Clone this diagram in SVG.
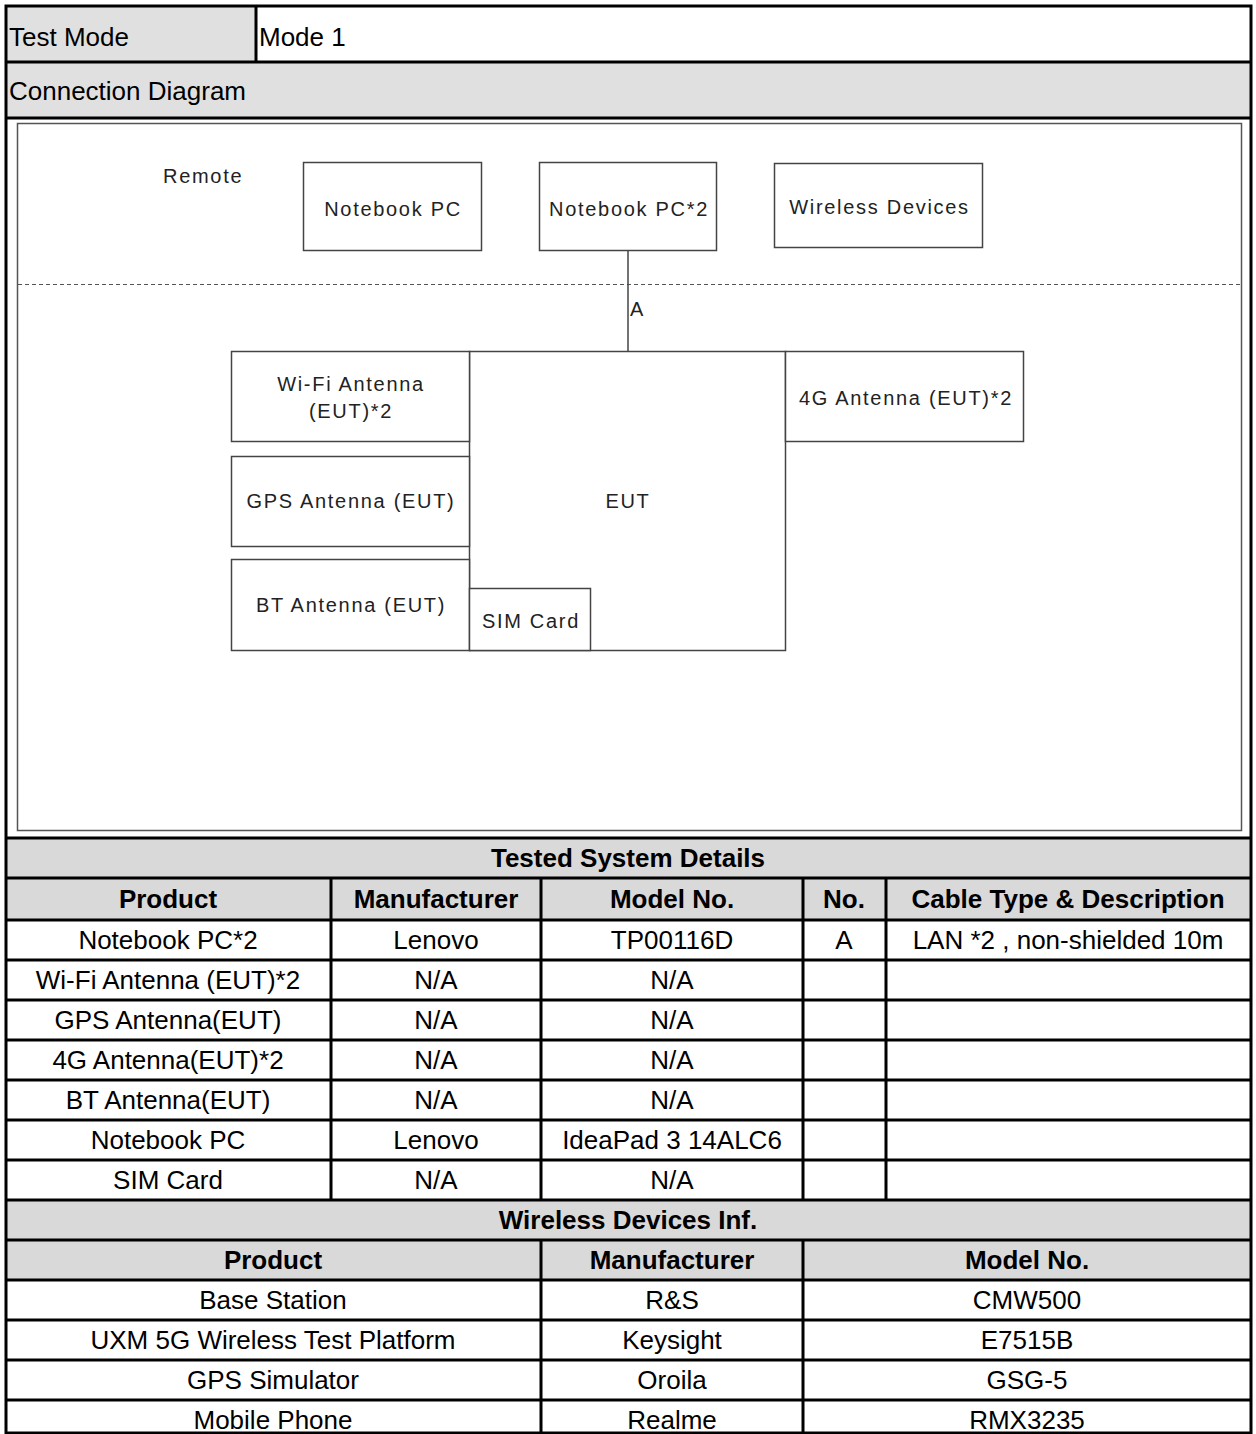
<svg xmlns="http://www.w3.org/2000/svg" width="1256" height="1434" viewBox="0 0 1256 1434">
<style>
.t{font-family:"Liberation Sans",Arial,sans-serif;font-size:26px;fill:#000}
.b{font-family:"Liberation Sans",Arial,sans-serif;font-size:26px;font-weight:bold;fill:#000}
.h{font-family:"Liberation Sans",Arial,sans-serif;font-size:26px;fill:#000}
.c{text-anchor:middle}
.d{font-family:"Liberation Sans",Arial,sans-serif;font-size:20px;fill:#222;letter-spacing:1.7px}
.box{fill:#fff;stroke:#444;stroke-width:1.5}
.grid{stroke:#000;stroke-width:3;fill:none}
.g1{fill:#e0e0e0}
.g2{fill:#d9d9d9}
</style>
<rect x="0" y="0" width="1256" height="1434" fill="#fff"/>
<g id="table-backgrounds">
<rect class="g1" x="6" y="6" width="250" height="56"/>
<rect class="g1" x="6" y="62" width="1245" height="56"/>
<rect class="g2" x="6" y="838" width="1245" height="82"/>
<rect class="g2" x="6" y="1200" width="1245" height="80"/>
</g>
<g id="diagram-frame">
<rect x="17.5" y="123.5" width="1224" height="707" fill="#fff" stroke="#555" stroke-width="1.5"/>
<line x1="18" y1="284.5" x2="1241" y2="284.5" stroke="#555" stroke-width="1" stroke-dasharray="4,3"/>
</g>
<g id="connectors">
<line x1="628" y1="250" x2="628" y2="351" stroke="#444" stroke-width="1.5"/>
<text class="d" x="630" y="316">A</text>
</g>
<g id="remote-label"><text class="d" x="163" y="183">Remote</text></g>
<g id="notebook-pc"><rect class="box" x="303.5" y="162.5" width="178" height="88"/><text class="d c" x="393" y="216">Notebook PC</text></g>
<g id="notebook-pc2"><rect class="box" x="539.5" y="162.5" width="177" height="88"/><text class="d c" x="629" y="216">Notebook PC*2</text></g>
<g id="wireless-devices"><rect class="box" x="774.5" y="163.5" width="208" height="84"/><text class="d c" x="879.5" y="214">Wireless Devices</text></g>
<g id="eut"><rect class="box" x="469.5" y="351.5" width="316" height="299"/><text class="d c" x="628" y="508">EUT</text></g>
<g id="wifi-antenna"><rect class="box" x="231.5" y="351.5" width="238" height="90"/><text class="d c" x="351" y="391">Wi-Fi Antenna</text><text class="d c" x="351" y="418">(EUT)*2</text></g>
<g id="gps-antenna"><rect class="box" x="231.5" y="456.5" width="238" height="90"/><text class="d c" x="351" y="508">GPS Antenna (EUT)</text></g>
<g id="bt-antenna"><rect class="box" x="231.5" y="559.5" width="238" height="91"/><text class="d c" x="351" y="612">BT Antenna (EUT)</text></g>
<g id="sim-card"><rect class="box" x="469.5" y="588.5" width="121" height="62"/><text class="d c" x="531" y="628">SIM Card</text></g>
<g id="g4-antenna"><rect class="box" x="785.5" y="351.5" width="238" height="90"/><text class="d c" x="906" y="405">4G Antenna (EUT)*2</text></g>
<g id="table-grid" class="grid">
<rect x="6" y="6" width="1245" height="1427"/>
<path d="M256 6V62M6 62H1251M6 118H1251M6 838H1251M6 878H1251M6 920H1251M6 960H1251M6 1000H1251M6 1040H1251M6 1080H1251M6 1120H1251M6 1160H1251M6 1200H1251M6 1240H1251M6 1280H1251M6 1320H1251M6 1360H1251M6 1400H1251"/>
<path d="M331 878V1200M541 878V1200M803 878V1200M886 878V1200"/>
<path d="M541 1240V1433M803 1240V1433"/>
</g>
<g id="table-text">
<text class="h" x="9" y="46">Test Mode</text>
<text class="h" x="259" y="46">Mode 1</text>
<text class="h" x="9" y="100">Connection Diagram</text>
<text class="b c" x="628" y="867">Tested System Details</text>
<text class="b c" x="168" y="908">Product</text>
<text class="b c" x="436" y="908">Manufacturer</text>
<text class="b c" x="672" y="908">Model No.</text>
<text class="b c" x="844" y="908">No.</text>
<text class="b c" x="1068" y="908">Cable Type &amp; Description</text>
<text class="t c" x="168" y="949">Notebook PC*2</text>
<text class="t c" x="436" y="949">Lenovo</text>
<text class="t c" x="672" y="949">TP00116D</text>
<text class="t c" x="844" y="949">A</text>
<text class="t c" x="1068" y="949">LAN *2 , non-shielded 10m</text>
<text class="t c" x="168" y="989">Wi-Fi Antenna (EUT)*2</text>
<text class="t c" x="436" y="989">N/A</text>
<text class="t c" x="672" y="989">N/A</text>
<text class="t c" x="168" y="1029">GPS Antenna(EUT)</text>
<text class="t c" x="436" y="1029">N/A</text>
<text class="t c" x="672" y="1029">N/A</text>
<text class="t c" x="168" y="1069">4G Antenna(EUT)*2</text>
<text class="t c" x="436" y="1069">N/A</text>
<text class="t c" x="672" y="1069">N/A</text>
<text class="t c" x="168" y="1109">BT Antenna(EUT)</text>
<text class="t c" x="436" y="1109">N/A</text>
<text class="t c" x="672" y="1109">N/A</text>
<text class="t c" x="168" y="1149">Notebook PC</text>
<text class="t c" x="436" y="1149">Lenovo</text>
<text class="t c" x="672" y="1149">IdeaPad 3 14ALC6</text>
<text class="t c" x="168" y="1189">SIM Card</text>
<text class="t c" x="436" y="1189">N/A</text>
<text class="t c" x="672" y="1189">N/A</text>
<text class="b c" x="628" y="1229">Wireless Devices Inf.</text>
<text class="b c" x="273" y="1269">Product</text>
<text class="b c" x="672" y="1269">Manufacturer</text>
<text class="b c" x="1027" y="1269">Model No.</text>
<text class="t c" x="273" y="1309">Base Station</text>
<text class="t c" x="672" y="1309">R&amp;S</text>
<text class="t c" x="1027" y="1309">CMW500</text>
<text class="t c" x="273" y="1349">UXM 5G Wireless Test Platform</text>
<text class="t c" x="672" y="1349">Keysight</text>
<text class="t c" x="1027" y="1349">E7515B</text>
<text class="t c" x="273" y="1389">GPS Simulator</text>
<text class="t c" x="672" y="1389">Oroila</text>
<text class="t c" x="1027" y="1389">GSG-5</text>
<text class="t c" x="273" y="1429">Mobile Phone</text>
<text class="t c" x="672" y="1429">Realme</text>
<text class="t c" x="1027" y="1429">RMX3235</text>
</g>
</svg>
